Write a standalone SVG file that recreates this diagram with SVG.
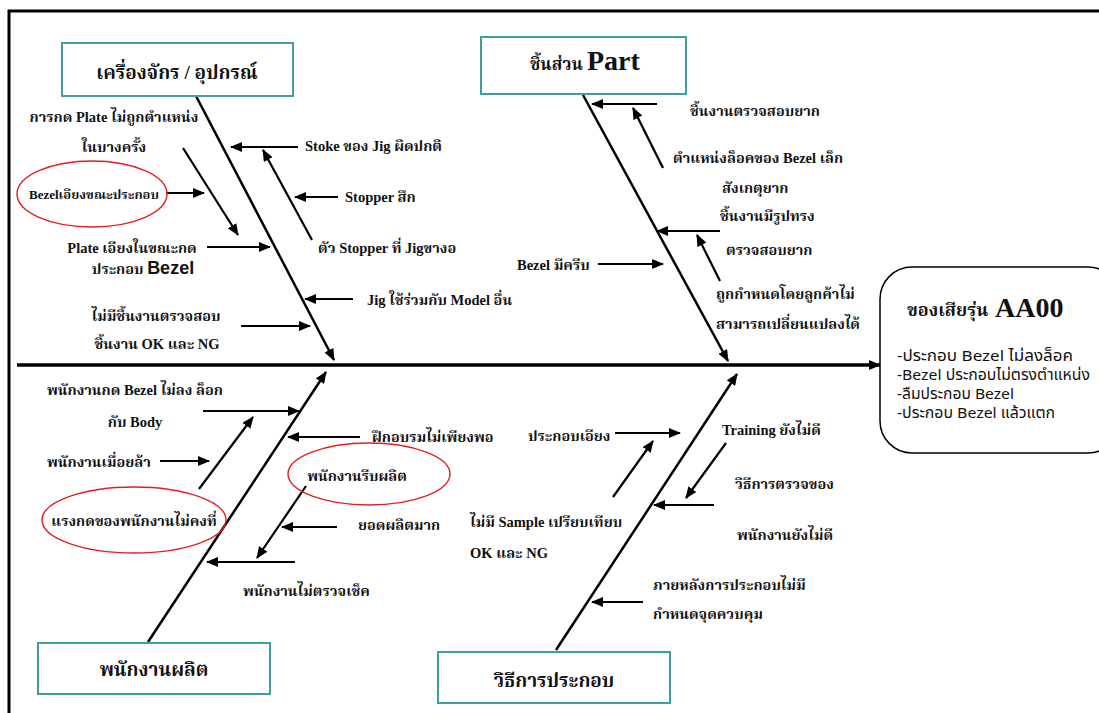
<svg xmlns="http://www.w3.org/2000/svg" width="1099" height="713" viewBox="0 0 1099 713">
  <defs>
    <marker id="ah" markerUnits="userSpaceOnUse" markerWidth="12" markerHeight="10" refX="11" refY="5" orient="auto">
      <path d="M0,0 L12,5 L0,10 Z" fill="#000"/>
    </marker>
    <style>
      .frame{fill:none;stroke:#000;stroke-width:3}
      .cat{fill:#fff;stroke:#3f9e9e;stroke-width:2}
      .bone{stroke:#000;stroke-width:2.5;fill:none}
      .spine{stroke:#000;stroke-width:3.5;fill:none}
      .sub{stroke:#000;stroke-width:2.2;fill:none}
      .ring{fill:none;stroke:#e02020;stroke-width:1.4}
      text{font-family:"Liberation Serif","Noto Serif Thai","Noto Sans Thai","DejaVu Sans",serif;font-weight:bold;fill:#111}
      .t{font-size:14.5px}
      .h{font-size:19px}
      .big{font-family:"Liberation Serif",serif;font-size:28px}
      .lst{font-family:"Noto Sans","Noto Sans Thai","DejaVu Sans",sans-serif;font-weight:normal;font-size:15px}
      .sans{font-family:"Liberation Sans",sans-serif;font-size:18px}
    </style>
  </defs>

  <!-- outer frame -->
  <rect class="frame" x="9" y="11" width="1100" height="720"/>

  <!-- connectors: spine, bones and cause arrows -->
  <g id="connectors">
    <line class="spine" x1="17" y1="365" x2="880" y2="365" marker-end="url(#ah)"/>
    <line class="bone" x1="196" y1="96" x2="334" y2="360" marker-end="url(#ah)"/>
    <line class="bone" x1="583" y1="95" x2="728" y2="361" marker-end="url(#ah)"/>
    <line class="bone" x1="148" y1="642" x2="326" y2="372" marker-end="url(#ah)"/>
    <line class="bone" x1="556" y1="650" x2="737" y2="374" marker-end="url(#ah)"/>

    <!-- machine causes -->
    <line class="sub" x1="183" y1="148" x2="238" y2="235" marker-end="url(#ah)"/>
    <line class="sub" x1="298" y1="147" x2="231" y2="147" marker-end="url(#ah)"/>
    <line class="sub" x1="312" y1="240" x2="263" y2="150" marker-end="url(#ah)"/>
    <line class="sub" x1="338" y1="197" x2="295" y2="197" marker-end="url(#ah)"/>
    <line class="sub" x1="166" y1="193" x2="204" y2="193" marker-end="url(#ah)"/>
    <line class="sub" x1="207" y1="247" x2="270" y2="247" marker-end="url(#ah)"/>
    <line class="sub" x1="353" y1="299" x2="305" y2="299" marker-end="url(#ah)"/>
    <line class="sub" x1="241" y1="326" x2="310" y2="326" marker-end="url(#ah)"/>

    <!-- part causes -->
    <line class="sub" x1="657" y1="104" x2="592" y2="104" marker-end="url(#ah)"/>
    <line class="sub" x1="663" y1="168" x2="633" y2="108" marker-end="url(#ah)"/>
    <line class="sub" x1="720" y1="231" x2="657" y2="231" marker-end="url(#ah)"/>
    <line class="sub" x1="720" y1="281" x2="697" y2="235" marker-end="url(#ah)"/>
    <line class="sub" x1="598" y1="264" x2="663" y2="264" marker-end="url(#ah)"/>

    <!-- operator causes -->
    <line class="sub" x1="203" y1="411" x2="299" y2="411" marker-end="url(#ah)"/>
    <line class="sub" x1="199" y1="489" x2="253" y2="417" marker-end="url(#ah)"/>
    <line class="sub" x1="160" y1="461" x2="209" y2="461" marker-end="url(#ah)"/>
    <line class="sub" x1="360" y1="437" x2="288" y2="437" marker-end="url(#ah)"/>
    <line class="sub" x1="306" y1="486" x2="257" y2="558" marker-end="url(#ah)"/>
    <line class="sub" x1="337" y1="527" x2="282" y2="527" marker-end="url(#ah)"/>
    <line class="sub" x1="295" y1="562" x2="207" y2="562" marker-end="url(#ah)"/>

    <!-- method causes -->
    <line class="sub" x1="615" y1="433" x2="680" y2="433" marker-end="url(#ah)"/>
    <line class="sub" x1="613" y1="497" x2="653" y2="441" marker-end="url(#ah)"/>
    <line class="sub" x1="726" y1="443" x2="686" y2="498" marker-end="url(#ah)"/>
    <line class="sub" x1="714" y1="505" x2="654" y2="505" marker-end="url(#ah)"/>
    <line class="sub" x1="643" y1="602" x2="592" y2="602" marker-end="url(#ah)"/>
  </g>

  <!-- category boxes -->
  <g id="cat-machine">
    <rect class="cat" x="62" y="43" width="231" height="53"/>
    <text class="h" x="177" y="79" text-anchor="middle">เครื่องจักร / อุปกรณ์</text>
  </g>
  <g id="cat-part">
    <rect class="cat" x="481" y="37" width="205" height="57"/>
    <text x="530" y="70" font-size="17px">ชิ้นส่วน</text>
    <text class="big" x="587" y="70">Part</text>
  </g>
  <g id="cat-operator">
    <rect class="cat" x="38" y="643" width="232" height="51"/>
    <text class="h" x="154" y="676" text-anchor="middle">พนักงานผลิต</text>
  </g>
  <g id="cat-method">
    <rect class="cat" x="438" y="652" width="232" height="51"/>
    <text class="h" x="554" y="687" text-anchor="middle">วิธีการประกอบ</text>
  </g>

  <!-- effect box -->
  <g id="effect">
    <rect x="880" y="267" width="240" height="186" rx="32" ry="32" fill="#fff" stroke="#000" stroke-width="1.5"/>
    <text x="907" y="316" font-size="18px">ของเสียรุ่น</text>
    <text class="big" x="995" y="317">AA00</text>
    <text class="lst" x="897" y="361" textLength="176" lengthAdjust="spacingAndGlyphs">-ประกอบ Bezel ไม่ลงล็อค</text>
    <text class="lst" x="897" y="380" textLength="193" lengthAdjust="spacingAndGlyphs">-Bezel ประกอบไม่ตรงตำแหน่ง</text>
    <text class="lst" x="897" y="399" textLength="117" lengthAdjust="spacingAndGlyphs">-ลืมประกอบ Bezel</text>
    <text class="lst" x="897" y="418" textLength="158" lengthAdjust="spacingAndGlyphs">-ประกอบ Bezel แล้วแตก</text>
  </g>

  <!-- machine cause labels -->
  <g id="machine-causes">
    <text class="t" x="114" y="122" text-anchor="middle">การกด Plate ไม่ถูกตำแหน่ง</text>
    <text class="t" x="114" y="152" text-anchor="middle">ในบางครั้ง</text>
    <text class="t" x="305" y="151">Stoke ของ Jig ผิดปกติ</text>
    <text class="t" x="345" y="202">Stopper สึก</text>
    <text class="t" x="318" y="253">ตัว Stopper ที่ Jigขางอ</text>
    <text class="t" x="367" y="305">Jig ใช้ร่วมกับ Model อื่น</text>
    <text class="t" x="132" y="253" text-anchor="middle">Plate เอียงในขณะกด</text>
    <text x="143" y="274" text-anchor="middle"><tspan class="t">ประกอบ </tspan><tspan class="sans">Bezel</tspan></text>
    <text class="t" x="156" y="321" text-anchor="middle">ไม่มีชิ้นงานตรวจสอบ</text>
    <text class="t" x="157" y="349" text-anchor="middle">ชิ้นงาน OK และ NG</text>
  </g>
  <g id="ring-bezel-tilt">
    <ellipse class="ring" cx="92" cy="194" rx="75" ry="33"/>
    <text x="94" y="199" text-anchor="middle" font-size="13">Bezelเอียงขณะประกอบ</text>
  </g>

  <!-- part cause labels -->
  <g id="part-causes">
    <text class="t" x="690" y="116">ชิ้นงานตรวจสอบยาก</text>
    <text class="t" x="673" y="163">ตำแหน่งล็อคของ Bezel เล็ก</text>
    <text class="t" x="722" y="193">สังเกตุยาก</text>
    <text class="t" x="720" y="221">ชิ้นงานมีรูปทรง</text>
    <text class="t" x="726" y="255">ตรวจสอบยาก</text>
    <text class="t" x="716" y="299">ถูกกำหนดโดยลูกค้าไม่</text>
    <text class="t" x="716" y="329">สามารถเปลี่ยนแปลงได้</text>
    <text class="t" x="517" y="270">Bezel มีครีบ</text>
  </g>

  <!-- operator cause labels -->
  <g id="operator-causes">
    <text class="t" x="47" y="395">พนักงานกด Bezel ไม่ลง ล็อก</text>
    <text class="t" x="135" y="427" text-anchor="middle">กับ Body</text>
    <text class="t" x="47" y="467">พนักงานเมื่อยล้า</text>
    <text class="t" x="372" y="442">ฝึกอบรมไม่เพียงพอ</text>
    <text class="t" x="358" y="530">ยอดผลิตมาก</text>
    <text class="t" x="243" y="596">พนักงานไม่ตรวจเช็ค</text>
  </g>
  <g id="ring-pressure">
    <ellipse class="ring" cx="134" cy="520" rx="92" ry="33"/>
    <text class="t" x="134" y="526" text-anchor="middle">แรงกดของพนักงานไม่คงที่</text>
  </g>
  <g id="ring-rush">
    <ellipse class="ring" cx="369" cy="474" rx="81" ry="31"/>
    <text class="t" x="357" y="481" text-anchor="middle">พนักงานรีบผลิต</text>
  </g>

  <!-- method cause labels -->
  <g id="method-causes">
    <text class="t" x="528" y="441">ประกอบเอียง</text>
    <text class="t" x="470" y="527">ไม่มี Sample เปรียบเทียบ</text>
    <text class="t" x="470" y="558">OK และ NG</text>
    <text class="t" x="722" y="435">Training ยังไม่ดี</text>
    <text class="t" x="735" y="489">วิธีการตรวจของ</text>
    <text class="t" x="737" y="540">พนักงานยังไม่ดี</text>
    <text class="t" x="653" y="590">ภายหลังการประกอบไม่มี</text>
    <text class="t" x="653" y="619">กำหนดจุดควบคุม</text>
  </g>
</svg>
